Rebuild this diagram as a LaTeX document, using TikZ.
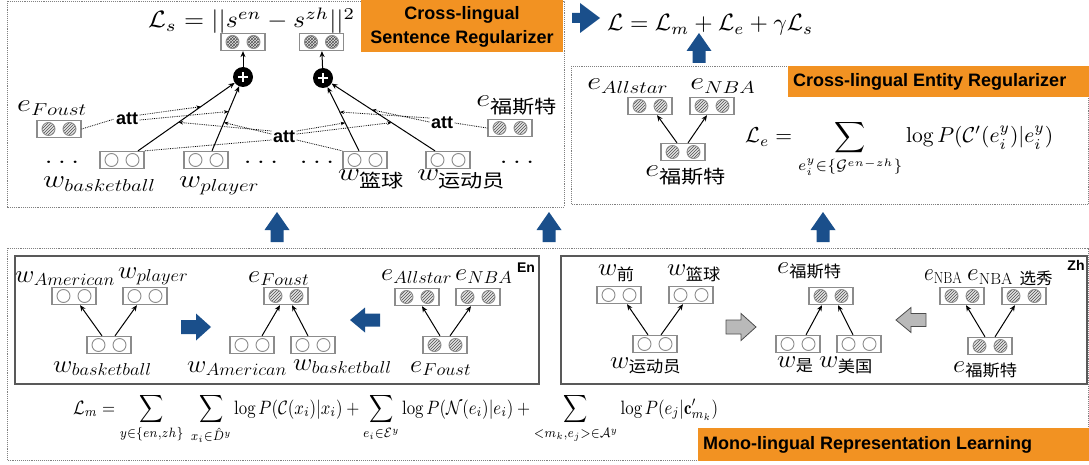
\documentclass[tikz,border=0pt]{standalone}
\usepackage{amsmath}
\usepackage{fontspec}
\usepackage{graphicx}
\newfontfamily\cjk{Noto Sans CJK SC}
\newfontfamily\hv{Liberation Sans}
\usetikzlibrary{arrows.meta,patterns,calc}
\definecolor{orgB}{HTML}{F29222}
\definecolor{bluB}{HTML}{1A4F8B}
\definecolor{vgray}{HTML}{8C8C8C}
\definecolor{hatchc}{HTML}{505050}
\tikzset{
  vbx/.style={draw=vgray, line width=1.3pt, minimum width=44pt, minimum height=17pt, inner sep=0pt, fill=white},
  wc/.style={draw=vgray, line width=0.9pt, fill=white},
  ec/.style={draw=vgray, line width=0.9pt, preaction={fill=gray!20}, pattern=north east lines, pattern color=hatchc},
  sc/.style={draw=vgray, line width=0.9pt, preaction={fill=gray!20}, pattern=crosshatch, pattern color=hatchc},
  lab/.style={font=\fontsize{26}{30}\selectfont, xscale=1.22, inner sep=0pt, anchor=base west},
  labb/.style={font=\fontsize{23}{27}\selectfont, xscale=1.07, inner sep=0pt, anchor=base west},
  arr/.style={-{Stealth[length=6pt,width=5pt]}, line width=1pt},
  attl/.style={densely dotted, line width=0.8pt},
  attar/.style={attl, -{Stealth[length=4.5pt,width=3.5pt]}},
  attn/.style={font=\hv\bfseries\fontsize{18}{20}\selectfont, inner sep=1.5pt},
  outer/.style={draw=gray, densely dotted, line width=0.9pt},
  inner/.style={draw=black!65, line width=1.2pt},
  orgbox/.style={fill=orgB, inner sep=0pt, anchor=north west},
  orgtxt/.style={font=\hv\bfseries\fontsize{18}{24}\selectfont, inner sep=0pt},
  plusn/.style={circle, fill=black, minimum size=20pt, inner sep=0pt},
  tag/.style={font=\hv\bfseries\fontsize{14}{16}\selectfont, inner sep=0pt},
  pics/upar/.style={code={\fill[bluB] (0,-15) -- (12.5,3) -- (6.5,3) -- (6.5,15) -- (-6.5,15) -- (-6.5,3) -- (-12.5,3) -- cycle;}},
  pics/rar/.style={code={\path[#1] (15,0) -- (0,-13.5) -- (0,-7) -- (-15,-7) -- (-15,7) -- (0,7) -- (0,13.5) -- cycle;}},
  pics/lar/.style={code={\path[#1] (-15,0) -- (0,-12.5) -- (0,-6.5) -- (15,-6.5) -- (15,6.5) -- (0,6.5) -- (0,12.5) -- cycle;}},
  pics/toprar/.style={code={\fill[bluB] (14,0) -- (-6,-15) -- (-6,-5) -- (-14,-5) -- (-14,5) -- (-6,5) -- (-6,15) -- cycle;}},
}
\newcommand{\vecnode}[3]{%
  \node[vbx] (#1) at (#2) {};
  \path[#3] ([xshift=-10.5pt]#1.center) circle (6.5pt);
  \path[#3] ([xshift=10.5pt]#1.center) circle (6.5pt);
}
\newcommand{\plusnode}[2]{%
  \node[plusn] (#1) at (#2) {};
  \draw[white, line width=2.2pt] ([xshift=-5pt]#1.center) -- ([xshift=5pt]#1.center);
  \draw[white, line width=2.2pt] ([yshift=-5pt]#1.center) -- ([yshift=5pt]#1.center);
}
\newcommand{\zh}[1]{\text{\cjk #1}}
\begin{document}
\begin{tikzpicture}[x=1pt,y=-1pt]
\useasboundingbox (0,0) rectangle (1089,465);
% frames
\draw[outer] (7,1) rectangle (564,207);
\draw[outer] (571,66) rectangle (1088,204);
\draw[outer] (7,248) rectangle (1088,460);
\draw[inner] (15,256) rectangle (539,384);
\draw[inner] (561,256) rectangle (1087,384);
% orange headers
\node[orgbox, minimum width=202pt, minimum height=52pt] (orS) at (361,0) {};
\node[orgtxt, align=center] (orSt) at (462,27) {Cross-lingual\\Sentence Regularizer};
\node[orgbox, minimum width=301pt, minimum height=31pt] (orE) at (788,66) {};
\node[orgtxt, anchor=west] (orEt) at (793,82) {Cross-lingual Entity Regularizer};
\node[orgbox, minimum width=391pt, minimum height=33pt] (orM) at (698,428) {};
\node[orgtxt, anchor=west] (orMt) at (703,445) {Mono-lingual Representation Learning};
% ---------- top-left: sentence regularizer
\node[anchor=base west, inner sep=0pt] (Ls) at (148,28) {\resizebox*{207pt}{26pt}{$\mathcal{L}_s = ||s^{en} - s^{zh}||^2$}};
\vecnode{sen}{243,42}{sc}
\vecnode{szh}{321.5,42}{sc}
\plusnode{plus1}{243,77}
\plusnode{plus2}{323,78}
\draw[arr] (plus1) -- (sen);
\draw[arr] (plus2) -- (szh);
\vecnode{eFoustT}{59,129}{ec}
\vecnode{eFstT}{510,128}{ec}
\vecnode{wbbT}{122,160}{wc}
\vecnode{wplT}{206,160}{wc}
\vecnode{wlqT}{365,160}{wc}
\vecnode{wydT}{448,160}{wc}
\node[lab] (lFoustT) at (17,112) {$e_{Foust}$};
\node[lab] (lFstT) at (476,107) {$e_{\zh{福斯特}}$};
\node[lab] (lbbT) at (43,188) {$w_{basketball}$};
\node[lab] (lplT) at (179,188) {$w_{player}$};
\node[lab] (llqT) at (338,181) {$w_{\zh{篮球}}$};
\node[lab] (lydT) at (417,181) {$w_{\zh{运动员}}$};
\node[lab, anchor=base] (d1) at (62,164) {$\ldots$};
\node[lab, anchor=base] (d2) at (261,164) {$\ldots$};
\node[lab, anchor=base] (d3) at (317,164) {$\ldots$};
\node[lab, anchor=base] (d4) at (517,164) {$\ldots$};
\node[attn] (att1) at (127,119) {att};
\node[attn] (att2) at (284,137) {att};
\node[attn] (att3) at (442,123) {att};
\draw[arr] ([xshift=16pt]wbbT.north) -- (plus1) coordinate[pos=0.65] (bbU) coordinate[pos=0.42] (bbL);
\draw[arr] ([xshift=6pt]wplT.north) -- (plus1) coordinate[pos=0.61] (plU) coordinate[pos=0.44] (plL);
\draw[arr] ([xshift=-6pt]wlqT.north) -- (plus2) coordinate[pos=0.61] (lqU) coordinate[pos=0.44] (lqL);
\draw[arr] ([xshift=-13pt]wydT.north) -- (plus2) coordinate[pos=0.61] (ydU) coordinate[pos=0.42] (ydL);
\draw[attl] (eFoustT.east) -- (att1.west);
\draw[attar] ($(att1.east)+(0,-4)$) -- (bbU);
\draw[attar] ($(att1.east)+(0,1)$) -- (plU);
\draw[attar] ($(att2.west)+(0,-6)$) -- (bbL);
\draw[attar] ($(att2.west)+(0,-3)$) -- (plL);
\draw[attl] ($(att2.west)+(0,3)$) -- (wbbT.north east);
\draw[attar] ($(att2.east)+(0,-6)$) -- (lqL);
\draw[attar] ($(att2.east)+(0,-3)$) -- (ydL);
\draw[attl] ($(att2.east)+(0,3)$) -- (wlqT.north west);
\draw[attar] ($(att3.west)+(0,-5)$) -- (lqU);
\draw[attar] ($(att3.west)+(0,-1)$) -- (ydU);
\draw[attl] (att3.east) -- (eFstT.west);
% ---------- total loss
\pic (tra) at (586,18) {toprar};
\node[anchor=base west, inner sep=0pt] (Ltot) at (607,31) {\resizebox{206pt}{!}{$\mathcal{L} = \mathcal{L}_m + \mathcal{L}_e + \gamma\mathcal{L}_s$}};
\pic (tua) at (699,48) {upar};
% ---------- top-right: entity regularizer
\vecnode{eAllT}{650,106}{ec}
\vecnode{eNBAT}{712,106}{ec}
\vecnode{eFstR}{683,152}{ec}
\node[lab] (lAllT) at (587,90) {$e_{Allstar}$};
\node[lab] (lNBAT) at (690,90) {$e_{NBA}$};
\node[lab] (lFstR) at (645,177) {$e_{\zh{福斯特}}$};
\draw[arr] ([xshift=-6pt]eFstR.north) -- ([xshift=7pt]eAllT.south);
\draw[arr] ([xshift=5pt]eFstR.north) -- ([xshift=-5pt]eNBAT.south);
\node[anchor=base west, inner sep=0pt] (Le) at (745,143) {\resizebox{308pt}{!}{$\displaystyle \mathcal{L}_e = \sum_{e_i^y\in\{\mathcal{G}^{en-zh}\}} \log P(\mathcal{C}'(e_i^y)|e_i^y)$}};
% ---------- up arrows between levels
\pic (ua1) at (277,227) {upar};
\pic (ua2) at (549,227) {upar};
\pic (ua3) at (823,227) {upar};
% ---------- En box
\node[tag] (en) at (526,268) {En};
\vecnode{wAm1}{74,296}{wc}
\vecnode{wPl1}{145,296}{wc}
\vecnode{wBb1}{109,345}{wc}
\vecnode{eFoM}{286,296}{ec}
\vecnode{wAm2}{252,345}{wc}
\vecnode{wBb2}{313,345}{wc}
\vecnode{eAllB}{417,297}{ec}
\vecnode{eNBAB}{478,297}{ec}
\vecnode{eFoB}{445,345}{ec}
\node[labb] (lAm1) at (15,282) {$w_{American}$};
\node[labb] (lPl1) at (118,278) {$w_{player}$};
\node[labb] (lBb1) at (53,372) {$w_{basketball}$};
\node[labb] (lFoM) at (248,282) {$e_{Foust}$};
\node[labb] (lAm2) at (187,372) {$w_{American}$};
\node[labb] (lBb2) at (293,370) {$w_{basketball}$};
\node[labb] (lAllB) at (381,280) {$e_{Allstar}$};
\node[labb] (lNBAB) at (455,280) {$e_{NBA}$};
\node[labb] (lFoB) at (410,372) {$e_{Foust}$};
\draw[arr] ([xshift=-7pt]wBb1.north) -- ([xshift=6pt]wAm1.south);
\draw[arr] ([xshift=6pt]wBb1.north) -- ([xshift=-8pt]wPl1.south);
\draw[arr] ([xshift=10pt]wAm2.north) -- ([xshift=-6pt]eFoM.south);
\draw[arr] ([xshift=-5pt]wBb2.north) -- ([xshift=6pt]eFoM.south);
\draw[arr] ([xshift=-5pt]eFoB.north) -- ([xshift=5pt]eAllB.south);
\draw[arr] ([xshift=5pt]eFoB.north) -- ([xshift=-7pt]eNBAB.south);
\pic (enr) at (196,327) {rar={fill=bluB}};
\pic (enl) at (365,320) {lar={fill=bluB}};
% ---------- Zh box
\node[tag] (zhT) at (1076,265) {Zh};
\vecnode{wQ}{619,295}{wc}
\vecnode{wLq}{691,295}{wc}
\vecnode{wYd}{655,344}{wc}
\vecnode{eFsZ}{831,296}{ec}
\vecnode{wShi}{798,344}{wc}
\vecnode{wMg}{859,344}{wc}
\vecnode{eNBAZ}{962,296}{ec}
\vecnode{eNBAxZ}{1024,296}{ec}
\vecnode{eFsZ2}{990,346}{ec}
\node[labb] (lQ) at (598,275) {$w_{\zh{前}}$};
\node[labb] (lLq) at (667,275) {$w_{\zh{篮球}}$};
\node[labb] (lYd) at (610,368) {$w_{\zh{运动员}}$};
\node[labb] (lFsZ) at (777,273) {$e_{\zh{福斯特}}$};
\node[labb] (lShi) at (777,367) {$w_{\zh{是}}$};
\node[labb] (lMg) at (819,367) {$w_{\zh{美国}}$};
\node[labb, xscale=0.8] (lNBAZ) at (924,280) {$e_{\mathrm{NBA}}$};
\node[labb, xscale=0.96] (lNBAxZ) at (967,280) {$e_{\mathrm{NBA}\ \zh{选秀}}$};
\node[labb] (lFsZ2) at (953,372) {$e_{\zh{福斯特}}$};
\draw[arr] ([xshift=-7pt]wYd.north) -- ([xshift=8pt]wQ.south);
\draw[arr] ([xshift=6pt]wYd.north) -- ([xshift=-8pt]wLq.south);
\draw[arr] ([xshift=8pt]wShi.north) -- ([xshift=-9pt]eFsZ.south);
\draw[arr] ([xshift=-6pt]wMg.north) -- ([xshift=7pt]eFsZ.south);
\draw[arr] ([xshift=-5pt]eFsZ2.north) -- ([xshift=4pt]eNBAZ.south);
\draw[arr] ([xshift=5pt]eFsZ2.north) -- ([xshift=-9pt]eNBAxZ.south);
\pic (zhr) at (741,327) {rar={fill=gray!55, draw=gray!60!black, line width=0.8pt}};
\pic (zhl) at (911,320) {lar={fill=gray!55, draw=gray!60!black, line width=0.8pt}};
% ---------- mono-lingual loss
\node[anchor=base west, inner sep=0pt] (Lm) at (73,414) {\scalebox{1}[1.15]{\resizebox{645pt}{!}{$\displaystyle \mathcal{L}_m = \sum_{y\in\{en,zh\}}\; \sum_{x_i\in\hat{D}^y} \log P(\mathcal{C}(x_i)|x_i) + \sum_{e_i\in\mathcal{E}^y} \log P(\mathcal{N}(e_i)|e_i) + \sum_{<m_k,e_j>\in\mathcal{A}^y} \log P(e_j|\mathbf{c}'_{m_k})$}}};
\end{tikzpicture}
\end{document}
